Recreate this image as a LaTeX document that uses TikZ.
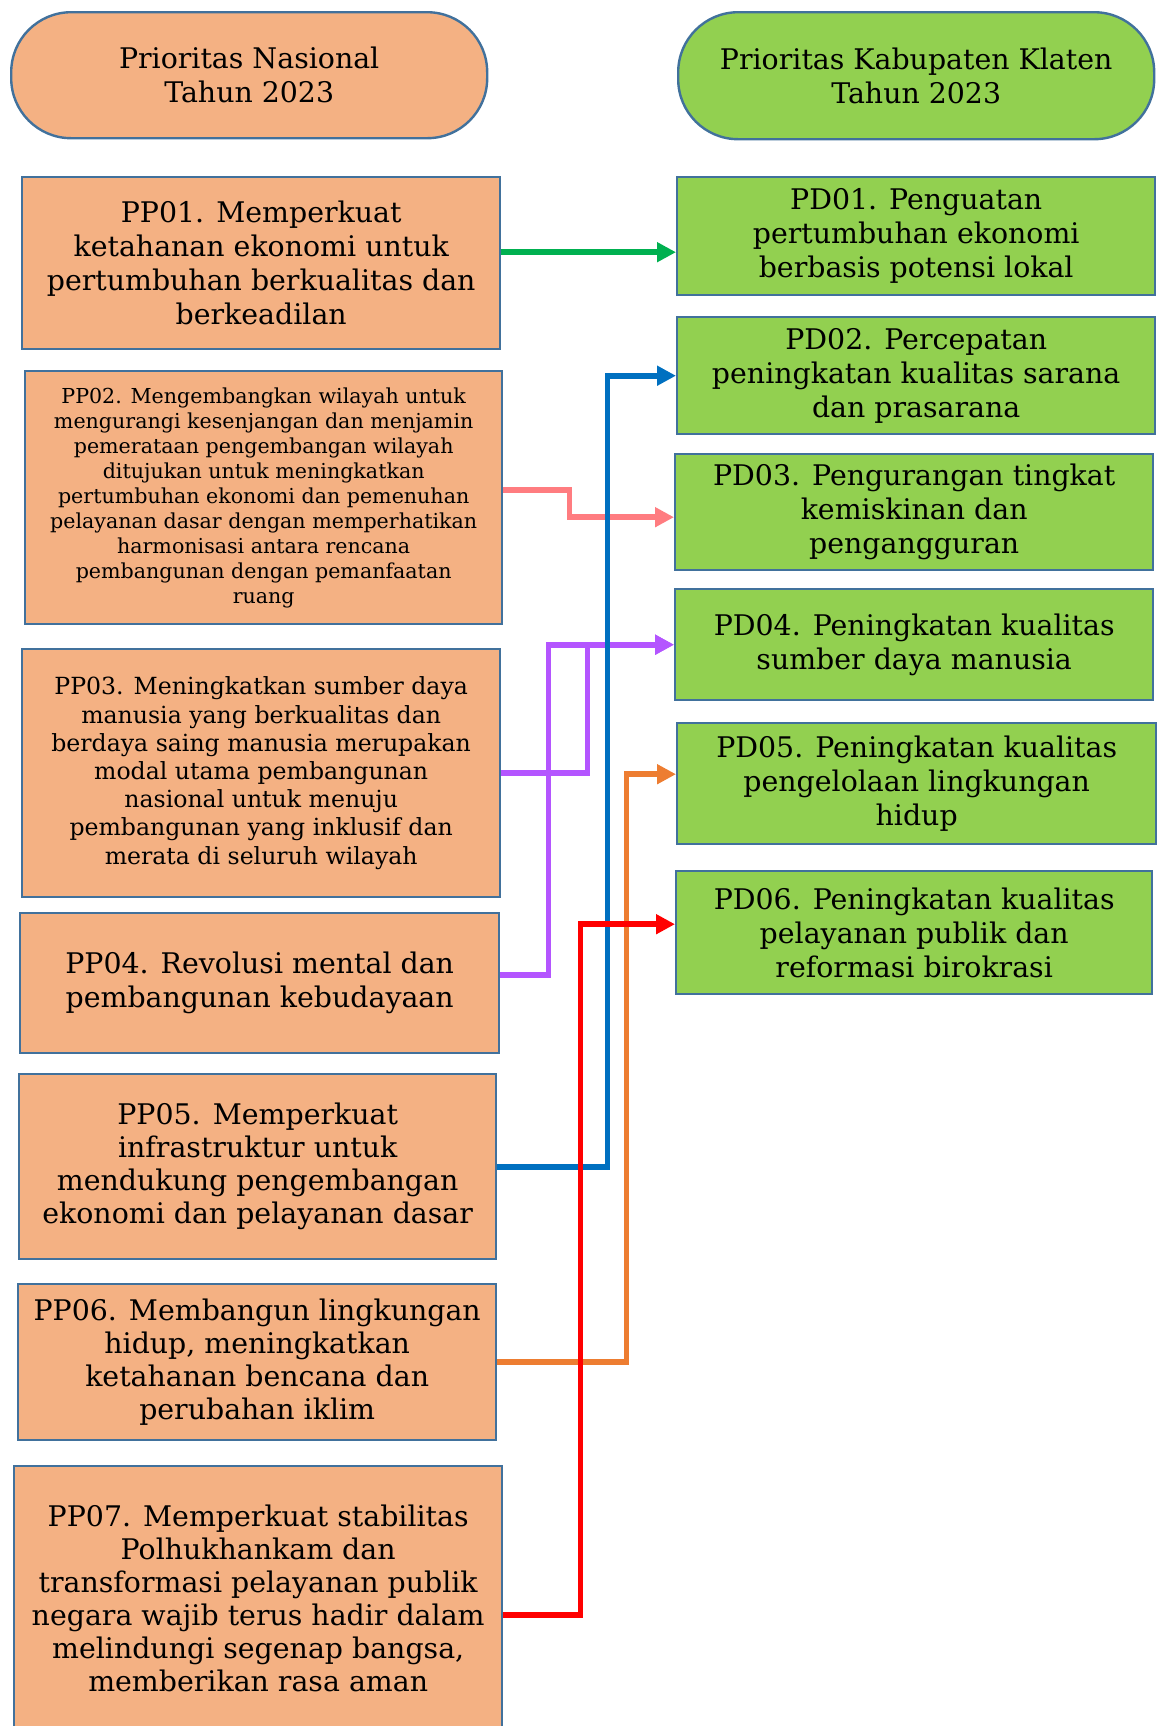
\documentclass[tikz,border=0pt]{standalone}
\usepackage{fontspec}
\setmainfont{DejaVu Serif}
\usepackage{xcolor}
\usetikzlibrary{arrows.meta,positioning}

\definecolor{ppfill}{HTML}{F4B183}
\definecolor{pdfill}{HTML}{92D050}
\definecolor{bdr}{HTML}{41719C}
\definecolor{cgreen}{HTML}{00B050}
\definecolor{cblue}{HTML}{0070C0}
\definecolor{cpink}{HTML}{FF7C80}
\definecolor{cpurple}{HTML}{B455FF}
\definecolor{corange}{HTML}{ED7D31}
\definecolor{cred}{HTML}{FF0000}

\begin{document}
\begin{tikzpicture}[
    x=0.5pt,y=-0.5pt,
    box/.style={draw=bdr,line width=1.2pt,align=center,anchor=north west,
                inner sep=2pt,font=\fontsize{14.2}{17}\selectfont},
    pp/.style={box,fill=ppfill},
    pd/.style={box,fill=pdfill},
    capsule/.style={box,rounded corners=30pt},
    arr/.style={line width=2.9pt,-{Triangle[length=9.5pt,width=9.5pt]}}
  ]
  \useasboundingbox (0,0) rectangle (1157,1726);
  \clip (0,0) rectangle (1157,1726);

  \node[capsule,fill=ppfill,minimum width=238pt,minimum height=63pt] (natl) at (10,11)
        {Prioritas Nasional\\Tahun 2023};
  \node[capsule,fill=pdfill,minimum width=238pt,minimum height=63.5pt] (kab) at (677,11)
        {Prioritas Kabupaten Klaten\\Tahun 2023};

  % prioritas nasional
  \node[pp,minimum width=239pt,minimum height=86pt] (pp1) at (21,176)
        {PP01. Memperkuat\\ketahanan ekonomi untuk\\pertumbuhan berkualitas dan\\berkeadilan};
  \node[pp,minimum width=238.5pt,minimum height=126.5pt,font=\fontsize{10.3}{12.5}\selectfont] (pp2) at (24,370)
        {PP02. Mengembangkan wilayah untuk\\mengurangi kesenjangan dan menjamin\\pemerataan pengembangan wilayah\\ditujukan untuk meningkatkan\\pertumbuhan ekonomi dan pemenuhan\\pelayanan dasar dengan memperhatikan\\harmonisasi antara rencana\\pembangunan dengan pemanfaatan\\ruang};
  \node[pp,minimum width=239pt,minimum height=124pt,font=\fontsize{11.8}{14.1}\selectfont] (pp3) at (21,648)
        {PP03. Meningkatkan sumber daya\\manusia yang berkualitas dan\\berdaya saing manusia merupakan\\modal utama pembangunan\\nasional untuk menuju\\pembangunan yang inklusif dan\\merata di seluruh wilayah};
  \node[pp,minimum width=239.5pt,minimum height=70pt] (pp4) at (19,912)
        {PP04. Revolusi mental dan\\pembangunan kebudayaan};
  \node[pp,minimum width=238.5pt,minimum height=92.5pt,font=\fontsize{14.2}{16.5}\selectfont] (pp5) at (18,1073)
        {PP05. Memperkuat\\infrastruktur untuk\\mendukung pengembangan\\ekonomi dan pelayanan dasar};
  \node[pp,minimum width=239pt,minimum height=78pt,font=\fontsize{14.2}{16.5}\selectfont] (pp6) at (17,1283)
        {PP06. Membangun lingkungan\\hidup, meningkatkan\\ketahanan bencana dan\\perubahan iklim};
  \node[pp,minimum width=244pt,minimum height=132pt,font=\fontsize{14.2}{16.5}\selectfont] (pp7) at (13,1465)
        {PP07. Memperkuat stabilitas\\Polhukhankam dan\\transformasi pelayanan publik\\negara wajib terus hadir dalam\\melindungi segenap bangsa,\\memberikan rasa aman};

  % prioritas kabupaten
  \node[pd,minimum width=239pt,minimum height=59pt] (pd1) at (676,176)
        {PD01. Penguatan\\pertumbuhan ekonomi\\berbasis potensi lokal};
  \node[pd,minimum width=239pt,minimum height=58.5pt] (pd2) at (676,316)
        {PD02. Percepatan\\peningkatan kualitas sarana\\dan prasarana};
  \node[pd,minimum width=239pt,minimum height=58pt] (pd3) at (674,453)
        {PD03. Pengurangan tingkat\\kemiskinan dan\\pengangguran};
  \node[pd,minimum width=239pt,minimum height=55.5pt] (pd4) at (674,588)
        {PD04. Peningkatan kualitas\\sumber daya manusia};
  \node[pd,minimum width=239.5pt,minimum height=60.5pt] (pd5) at (676,722)
        {PD05. Peningkatan kualitas\\pengelolaan lingkungan\\hidup};
  \node[pd,minimum width=238pt,minimum height=61.5pt] (pd6) at (675,870)
        {PD06. Peningkatan kualitas\\pelayanan publik dan\\reformasi birokrasi};

  % connectors
  \draw[arr,cgreen] ([yshift=5.5pt]pp1.east) -- ([yshift=-8pt]pd1.west);
  \draw[arr,cpink] ([yshift=4pt]pp2.east) -- ++(66,0) |- ([yshift=-2.5pt]pd3.west);
  \draw[arr,cpurple] (pp3.east) -- ++(86,0) |- (pd4.west);
  \draw[arr,cpurple] ([yshift=4pt]pp4.east) -- ++(48,0) |- (pd4.west);
  \draw[arr,corange] (pp6.east) -- ++(129,0) |- ([yshift=4.75pt]pd5.west);
  \draw[arr,cblue] (pp5.east) -- ++(110,0) |- (pd2.west);
  \draw[arr,cred] ([yshift=-8.5pt]pp7.east) -- ++(77,0) |- ([yshift=4.25pt]pd6.west);
\end{tikzpicture}
\end{document}
